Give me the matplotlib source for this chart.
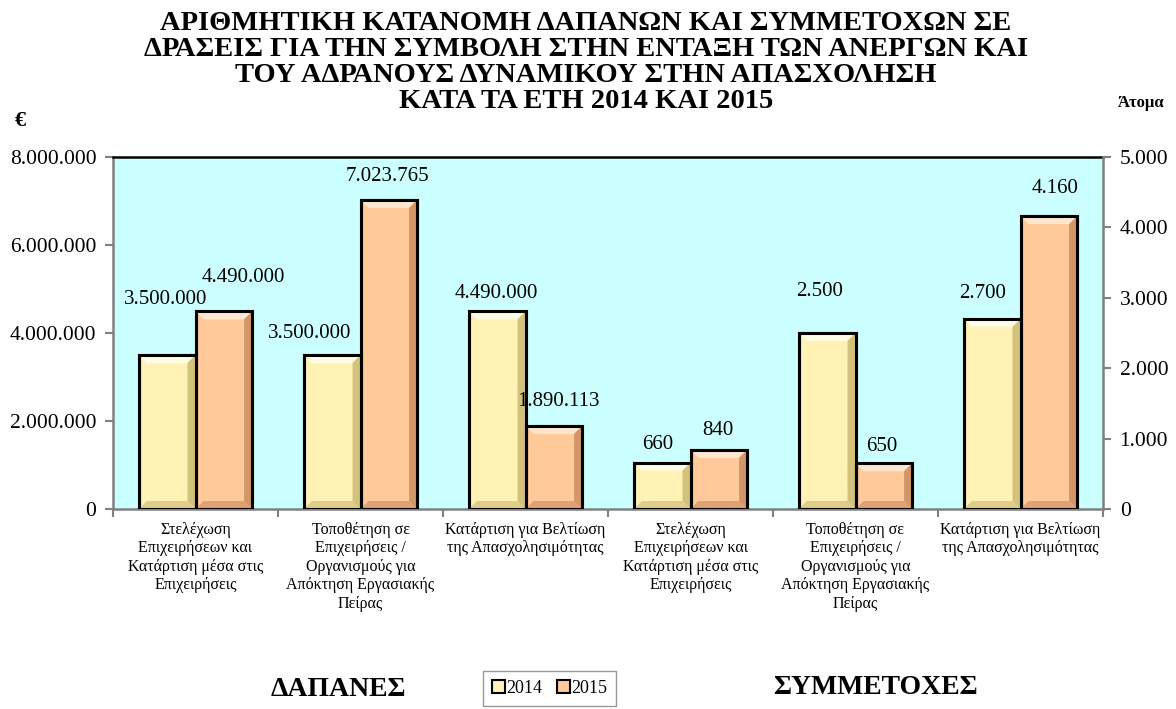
import numpy as np
import matplotlib
matplotlib.use("Agg")
import matplotlib.pyplot as plt
from matplotlib.patches import Polygon, Rectangle

plt.rcParams['font.family'] = ['Liberation Serif', 'DejaVu Serif']

# data
categories = ["Στελέχωση\nΕπιχειρήσεων και\nΚατάρτιση μέσα στις\nΕπιχειρήσεις",
              "Τοποθέτηση σε\nΕπιχειρήσεις /\nΟργανισμούς για\nΑπόκτηση Εργασιακής\nΠείρας",
              "Κατάρτιση για Βελτίωση\nτης Απασχολησιμότητας"]
years = ["2014", "2015"]
dapanes_2014 = [3500000, 3500000, 4490000]
dapanes_2015 = [4490000, 7023765, 1890113]
symmetoxes_2014 = [660, 2500, 2700]
symmetoxes_2015 = [840, 650, 4160]

# label offsets in pixels (dx, dy) from top centre of each bar
lab_off_2014 = [(-2, 55), (-23, 22), (-1, 18), (-5, 18), (-8, 42), (-10, 25)]
lab_off_2015 = [(20, 34), (-1, 23), (5, 24), (-1, 19), (-2, 17), (6, 28)]

face = {"2014": "#FFF2B4", "2015": "#FFC99A"}
light = {"2014": "#FFFCE6", "2015": "#FFE6CF"}
dark = {"2014": "#C9B66E", "2015": "#C88A5C"}

W, H = 1176, 709
fig = plt.figure(figsize=(W / 100, H / 100), dpi=100)
ax_l, ax_r, ax_b, ax_t = 113, 1103, 509, 157
ax1 = fig.add_axes([ax_l / W, 1 - ax_b / H, (ax_r - ax_l) / W, (ax_b - ax_t) / H])
ax2 = ax1.twinx()
ax1.set_facecolor("#CCFFFF")
ax2.patch.set_visible(False)

ax1.set_xlim(-0.5, 5.5)
ax1.set_ylim(0, 8000000)
ax2.set_ylim(0, 5000)

bw = 0.343
px_x = (ax_r - ax_l) / 6.0
px_h = ax_b - ax_t


def fmt(v):
    return f"{v:,.0f}".replace(",", ".")


def bevel_bar(ax, x, h, yr, yr_key):
    bars = ax.bar(x, h, width=bw, color=face[yr_key], edgecolor="black",
                  linewidth=2.2, zorder=3)
    bx = 8 / px_x
    by = 8 * yr / px_h
    for b in bars:
        x0, x1 = b.get_x(), b.get_x() + b.get_width()
        t = b.get_height()
        dyy = min(by, t / 3)
        ax.add_patch(Polygon([(x0, t), (x1, t), (x1 - bx, t - dyy), (x0 + bx, t - dyy)],
                             closed=True, facecolor=light[yr_key], edgecolor="none", zorder=3.1))
        ax.add_patch(Polygon([(x1, t), (x1, 0), (x1 - bx, dyy), (x1 - bx, t - dyy)],
                             closed=True, facecolor=dark[yr_key], edgecolor="none", zorder=3.1, alpha=0.8))
        ax.add_patch(Polygon([(x0, 0), (x1, 0), (x1 - bx, dyy), (x0 + bx, dyy)],
                             closed=True, facecolor=dark[yr_key], edgecolor="none", zorder=3.1, alpha=0.6))
        ax.add_patch(Rectangle((x0, 0), x1 - x0, t, facecolor="none", edgecolor="black",
                               linewidth=2.2, zorder=3.2))
    return bars


x_left = np.arange(3)
x_right = np.arange(3, 6)
groups = [
    (ax1, x_left, dapanes_2014, dapanes_2015, 8000000, 0),
    (ax2, x_right, symmetoxes_2014, symmetoxes_2015, 5000, 3),
]
for ax, xs, v14, v15, ymax, k0 in groups:
    bevel_bar(ax, xs - bw / 2, v14, ymax, "2014")
    bevel_bar(ax, xs + bw / 2, v15, ymax, "2015")
    for i, x in enumerate(xs):
        dx, dy = lab_off_2014[k0 + i]
        ax.annotate(fmt(v14[i]), (x - bw / 2, v14[i]), xytext=(dx, dy),
                    textcoords="offset pixels", ha="center", va="center", fontsize=15, zorder=5)
        dx, dy = lab_off_2015[k0 + i]
        ax.annotate(fmt(v15[i]), (x + bw / 2, v15[i]), xytext=(dx, dy),
                    textcoords="offset pixels", ha="center", va="center", fontsize=15, zorder=5)

# axes styling
ax1.set_yticks(np.arange(0, 8000001, 2000000))
ax1.set_yticklabels([fmt(v) for v in np.arange(0, 8000001, 2000000)], fontsize=15.5)
ax2.set_yticks(np.arange(0, 5001, 1000))
ax2.set_yticklabels([fmt(v) for v in np.arange(0, 5001, 1000)], fontsize=15.5)
ax1.set_xticks(np.arange(-0.5, 6, 1))
ax1.set_xticklabels([])
ax1.set_xticks(np.arange(6), minor=True)
ax1.set_xticklabels(categories * 2, minor=True, fontsize=11.5, linespacing=1.22)
ax1.tick_params(axis="x", which="minor", length=0, pad=9)
ax1.tick_params(axis="x", which="major", length=6, color="#808080", width=1.5)
ax1.tick_params(axis="y", length=6, color="#808080", width=1.5, pad=6)
ax2.tick_params(axis="y", length=6, color="#808080", width=1.5, pad=6)

for s in ["left", "bottom"]:
    ax1.spines[s].set_color("#808080")
    ax1.spines[s].set_linewidth(1.8)
ax1.spines["top"].set_color("black")
ax1.spines["top"].set_linewidth(1.8)
ax1.spines["right"].set_visible(False)
for s in ["left", "bottom", "top"]:
    ax2.spines[s].set_visible(False)
ax2.spines["right"].set_color("#808080")
ax2.spines["right"].set_linewidth(1.8)

# titles
fig.text(586 / W, 1 - 11 / H,
         "ΑΡΙΘΜΗΤΙΚΗ ΚΑΤΑΝΟΜΗ ΔΑΠΑΝΩΝ ΚΑΙ ΣΥΜΜΕΤΟΧΩΝ ΣΕ\n"
         "ΔΡΑΣΕΙΣ ΓΙΑ ΤΗΝ ΣΥΜΒΟΛΗ ΣΤΗΝ ΕΝΤΑΞΗ ΤΩΝ ΑΝΕΡΓΩΝ ΚΑΙ\n"
         "ΤΟΥ ΑΔΡΑΝΟΥΣ ΔΥΝΑΜΙΚΟΥ ΣΤΗΝ ΑΠΑΣΧΟΛΗΣΗ\n"
         "ΚΑΤΑ ΤΑ ΕΤΗ 2014 ΚΑΙ 2015",
         ha="center", va="top", fontsize=20.5, fontweight="bold", linespacing=1.05)
fig.text(20 / W, 1 - 121 / H, "€", ha="center", va="center", fontsize=16, fontweight="bold")
fig.text(1141 / W, 1 - 103 / H, "Άτομα", ha="center", va="center", fontsize=12, fontweight="bold")
fig.text(338 / W, 1 - 690 / H, "ΔΑΠΑΝΕΣ", ha="center", va="center", fontsize=20, fontweight="bold")
fig.text(875 / W, 1 - 687 / H, "ΣΥΜΜΕΤΟΧΕΣ", ha="center", va="center", fontsize=20, fontweight="bold")

# legend
handles = [Rectangle((0, 0), 1, 1, facecolor=face[y], edgecolor="black", linewidth=1.5) for y in years]
leg = fig.legend(handles, years, loc="upper left", bbox_to_anchor=(483 / W, 1 - 671 / H),
                 ncol=2, fontsize=13, frameon=True, fancybox=False, handlelength=0.7,
                 handleheight=0.7, handletextpad=0.1, columnspacing=0.8, borderpad=0.5,
                 borderaxespad=0)
leg.get_frame().set_edgecolor("#808080")
leg.get_frame().set_linewidth(1.0)

fig.savefig("out.png", dpi=100)
